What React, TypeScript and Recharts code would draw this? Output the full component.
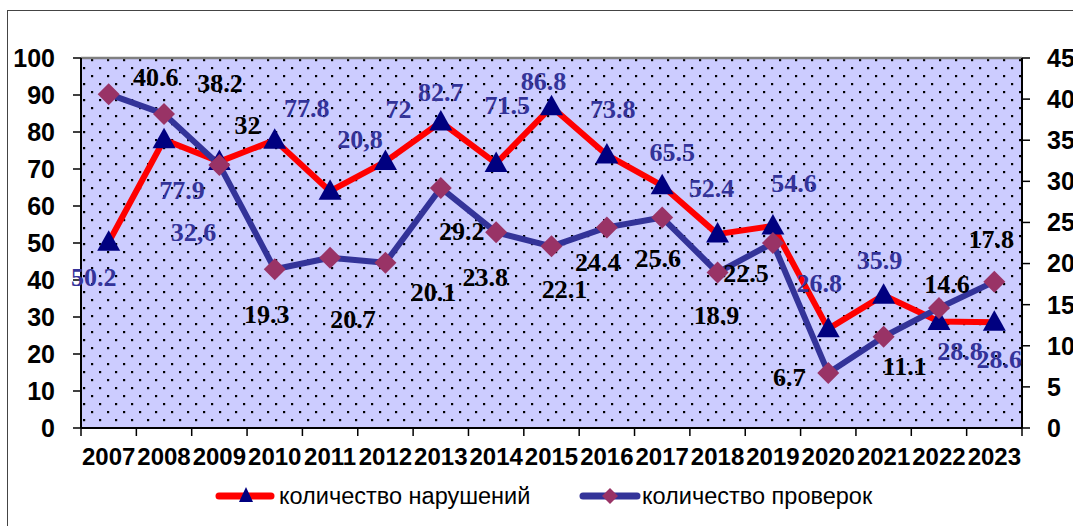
import React from "react";
import { LineChart, Line, XAxis, YAxis, LabelList, ReferenceLine, CartesianGrid } from "recharts";

// ---------- data ----------
const years = ["2007", "2008", "2009", "2010", "2011", "2012", "2013", "2014", "2015", "2016", "2017", "2018", "2019", "2020", "2021", "2022", "2023"];
const violations = [50.2, 77.9, 72.0, 77.8, 64.0, 72.0, 82.7, 71.5, 86.8, 73.8, 65.5, 52.4, 54.6, 26.8, 35.9, 28.8, 28.6];
const inspections = [40.6, 38.2, 32, 19.3, 20.7, 20.1, 29.2, 23.8, 22.1, 24.4, 25.6, 18.9, 22.5, 6.7, 11.1, 14.6, 17.8];
const violationLabels = ["50.2", "77.9", "32,6", "77.8", "20,8", "72", "82.7", "71.5", "86.8", "73.8", "65.5", "52.4", "54.6", "26.8", "35.9", "28.8", "28.6"];
const inspectionLabels = ["40.6", "38.2", "32", "19.3", "20.7", "20.1", "29.2", "23.8", "22.1", "24.4", "25.6", "18.9", "22.5", "6.7", "11.1", "14.6", "17.8"];
const leftTicks = [0, 10, 20, 30, 40, 50, 60, 70, 80, 90, 100];
const rightTicks = [0, 5, 10, 15, 20, 25, 30, 35, 40, 45];
const seriesNames = ["количество нарушений", "количество проверок"];

// label placement (offset of label centre from its point, px)
const violationLabelOffsets = [[-15, 35], [18, 51], [-26, 71], [32, -32], [30, -52], [13, -52], [0, -30], [11, -58], [-8, -25], [6, -45], [10, -33], [-6, -46], [21, -42], [-9, -45], [-4, -35], [21, 30], [5, 37]];
const inspectionLabelOffsets = [[47, -17], [56, -30], [28, -39], [-8, 45], [23, 62], [48, 30], [21, 44], [-11, 45], [13, 43], [-9, 35], [-4, 41], [-1, 43], [-27, 30], [-39, 5], [21, 30], [8, -23], [-3, -42]];

const data = years.map((y, i) => ({
  year: y,
  v: violations[i],
  p: inspections[i],
  vl: violationLabels[i],
  pl: inspectionLabels[i],
}));

// ---------- layout ----------
const W = 1073;
const H = 526;
const M = { top: 58, right: 0, bottom: 58, left: 21 };
const LEFT_AXIS_W = 60;
const RIGHT_AXIS_W = 51;
const X_AXIS_H = 40;
const PLOT_W = W - M.left - LEFT_AXIS_W - M.right - RIGHT_AXIS_W;
const BW = PLOT_W / years.length;

const SANS = "'Liberation Sans', Arial, sans-serif";
const SERIF = "'Liberation Serif', 'Times New Roman', serif";

const Triangle = (props: any) => {
  const { cx, cy, index } = props;
  if (cx == null || cy == null) return <g key={"t" + index} />;
  return (
    <polygon
      key={"t" + index}
      points={`${cx},${cy - 12} ${cx - 11.5},${cy + 8.5} ${cx + 11.5},${cy + 8.5}`}
      fill="#000080"
    />
  );
};

const Diamond = (props: any) => {
  const { cx, cy, index } = props;
  if (cx == null || cy == null) return <g key={"d" + index} />;
  return (
    <polygon
      key={"d" + index}
      points={`${cx},${cy - 11} ${cx + 11},${cy} ${cx},${cy + 11} ${cx - 11},${cy}`}
      fill="#993366"
    />
  );
};

const makeLabel = (offsets: number[][], color: string) => (props: any) => {
  const { index, value } = props;
  const x = props.x ?? props.viewBox?.x;
  const y = props.y ?? props.viewBox?.y;
  if (x == null || y == null || index == null) return null;
  const [dx, dy] = offsets[index] || [0, 0];
  return (
    <text
      x={x + dx}
      y={y + dy}
      textAnchor="middle"
      dominantBaseline="central"
      fontFamily={SERIF}
      fontWeight="bold"
      fontSize={26}
      fill={color}
    >
      {value}
    </text>
  );
};

const XTick = (props: any) => {
  const { x, y, payload, index } = props;
  const last = index === years.length - 1;
  return (
    <g>
      <line x1={x - BW / 2} y1={y} x2={x - BW / 2} y2={y + 8} stroke="#000" strokeWidth={1.5} />
      {last && <line x1={x + BW / 2} y1={y} x2={x + BW / 2} y2={y + 8} stroke="#000" strokeWidth={1.5} />}
      <text
        x={x}
        y={y + 28}
        textAnchor="middle"
        dominantBaseline="central"
        fontFamily={SANS}
        fontWeight="bold"
        fontSize={24}
        fill="#000"
      >
        {payload.value}
      </text>
    </g>
  );
};

const yTickStyle = { fontFamily: SANS, fontWeight: "bold", fontSize: 25, fill: "#000" } as any;

const LEGEND_Y = 496;

export default function App() {
  return (
    <div style={{ position: "absolute", left: 0, top: 0, width: W, height: H, overflow: "hidden", background: "#fff" }}>
      <div
        style={{
          position: "absolute",
          left: 7,
          top: 10,
          width: W,
          height: H,
          borderTop: "1.5px solid #444",
          borderLeft: "1.5px solid #444",
          boxSizing: "border-box",
        }}
      />
      <div style={{ position: "absolute", left: 0, top: 0 }}>
        <LineChart width={W} height={H} data={data} margin={M}>
          <defs>
            <pattern id="dotsPattern" patternUnits="userSpaceOnUse" width={16} height={16}>
              <rect x={0} y={0} width={16} height={16} fill="#ccccff" />
              <rect x={3} y={3} width={2.2} height={2.2} fill="#000" />
              <rect x={11} y={11} width={2.2} height={2.2} fill="#000" />
            </pattern>
          </defs>
          <CartesianGrid horizontal={false} vertical={false} fill="url(#dotsPattern)" yAxisId="left" />
          <XAxis
            dataKey="year"
            type="category"
            interval={0}
            padding={{ left: BW / 2, right: BW / 2 }}
            height={X_AXIS_H}
            tickSize={0}
            tickMargin={0}
            tickLine={false}
            tick={<XTick />}
            axisLine={{ stroke: "#000", strokeWidth: 2 }}
          />
          <YAxis
            yAxisId="left"
            orientation="left"
            width={LEFT_AXIS_W}
            domain={[0, 100]}
            ticks={leftTicks}
            interval={0}
            tickSize={8}
            tickMargin={18}
            tick={yTickStyle}
            tickLine={{ stroke: "#000", strokeWidth: 1.5 }}
            axisLine={{ stroke: "#000", strokeWidth: 2 }}
          />
          <YAxis
            yAxisId="right"
            orientation="right"
            width={RIGHT_AXIS_W}
            domain={[0, 45]}
            ticks={rightTicks}
            interval={0}
            tickSize={8}
            tickMargin={17}
            tick={yTickStyle}
            tickLine={{ stroke: "#000", strokeWidth: 1.5 }}
            axisLine={{ stroke: "#000", strokeWidth: 2 }}
          />
          <ReferenceLine yAxisId="left" y={100} stroke="#808080" strokeWidth={2.5} />
          <Line
            yAxisId="left"
            dataKey="v"
            stroke="#ff0000"
            strokeWidth={6}
            strokeLinejoin="round"
            dot={Triangle}
            activeDot={false}
            isAnimationActive={false}
          >
            <LabelList dataKey="vl" content={makeLabel(violationLabelOffsets, "#333399")} />
          </Line>
          <Line
            yAxisId="right"
            dataKey="p"
            stroke="#333399"
            strokeWidth={6}
            strokeLinejoin="round"
            dot={Diamond}
            activeDot={false}
            isAnimationActive={false}
          >
            <LabelList dataKey="pl" content={makeLabel(inspectionLabelOffsets, "#000")} />
          </Line>
        </LineChart>
      </div>
      <svg width={W} height={H} style={{ position: "absolute", left: 0, top: 0, pointerEvents: "none" }}>
        <line x1={219} y1={LEGEND_Y} x2={271} y2={LEGEND_Y} stroke="#ff0000" strokeWidth={7} strokeLinecap="round" />
        <polygon points={`246,${LEGEND_Y - 9} ${239},${LEGEND_Y + 6} ${253},${LEGEND_Y + 6}`} fill="#000080" />
        <text x={279} y={LEGEND_Y} dominantBaseline="central" fontFamily={SANS} fontSize={23.5} fill="#000">
          {seriesNames[0]}
        </text>
        <line x1={583} y1={LEGEND_Y} x2={637} y2={LEGEND_Y} stroke="#333399" strokeWidth={7} strokeLinecap="round" />
        <polygon points={`610,${LEGEND_Y - 8} 618,${LEGEND_Y} 610,${LEGEND_Y + 8} 602,${LEGEND_Y}`} fill="#993366" />
        <text x={642} y={LEGEND_Y} dominantBaseline="central" fontFamily={SANS} fontSize={23.5} fill="#000">
          {seriesNames[1]}
        </text>
      </svg>
    </div>
  );
}
